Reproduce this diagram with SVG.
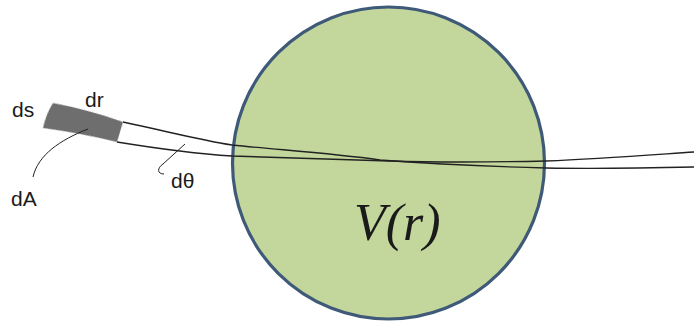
<svg xmlns="http://www.w3.org/2000/svg" width="694" height="322" viewBox="0 0 694 322">
<style>
.lbl{font-family:"Liberation Sans",Arial,sans-serif;font-size:21px;fill:#1a1a1a}
.path{fill:none;stroke:#222;stroke-width:1.4}
.lead{fill:none;stroke:#222;stroke-width:1}
</style>
<rect width="694" height="322" fill="#fff"/>
<g id="sphere">
<circle cx="388.5" cy="163" r="156" fill="#c3d69b" stroke="#3f5a78" stroke-width="3.2"/>
<text x="354" y="240" style="font-family:'Liberation Serif','Times New Roman',serif;font-style:italic;font-size:52px;fill:#1a1a1a">V(r)</text>
</g>
<g id="element">
<path d="M53,103 Q90,110 123,122 L117,142 Q80,133 43,128 Q46,114 53,103 Z" fill="#6e6e6e" stroke="#bbb" stroke-width="1" stroke-dasharray="2,2"/>
</g>
<g id="connectors">
<path class="path" d="M123,122 C170,132 200,140 232,145 C280,150 330,153 380,160 C420,163 470,166 546,168 C600,169 650,168 694,167"/>
<path class="path" d="M117,142 C160,149 200,154 232,156 C290,158 340,159 390,161 C440,162.5 500,162 546,161 C600,159 650,155 694,152"/>
<path class="lead" d="M33,177 C38,155 60,140 88,129"/>
<path class="lead" d="M164,174 C157,174 157,168 163,164 L185,144"/>
</g>
<g id="labels">
<text class="lbl" x="12" y="117">ds</text>
<text class="lbl" x="85" y="107">dr</text>
<text class="lbl" x="11" y="206">dA</text>
<text class="lbl" x="171" y="188">dθ</text>
</g>
</svg>
